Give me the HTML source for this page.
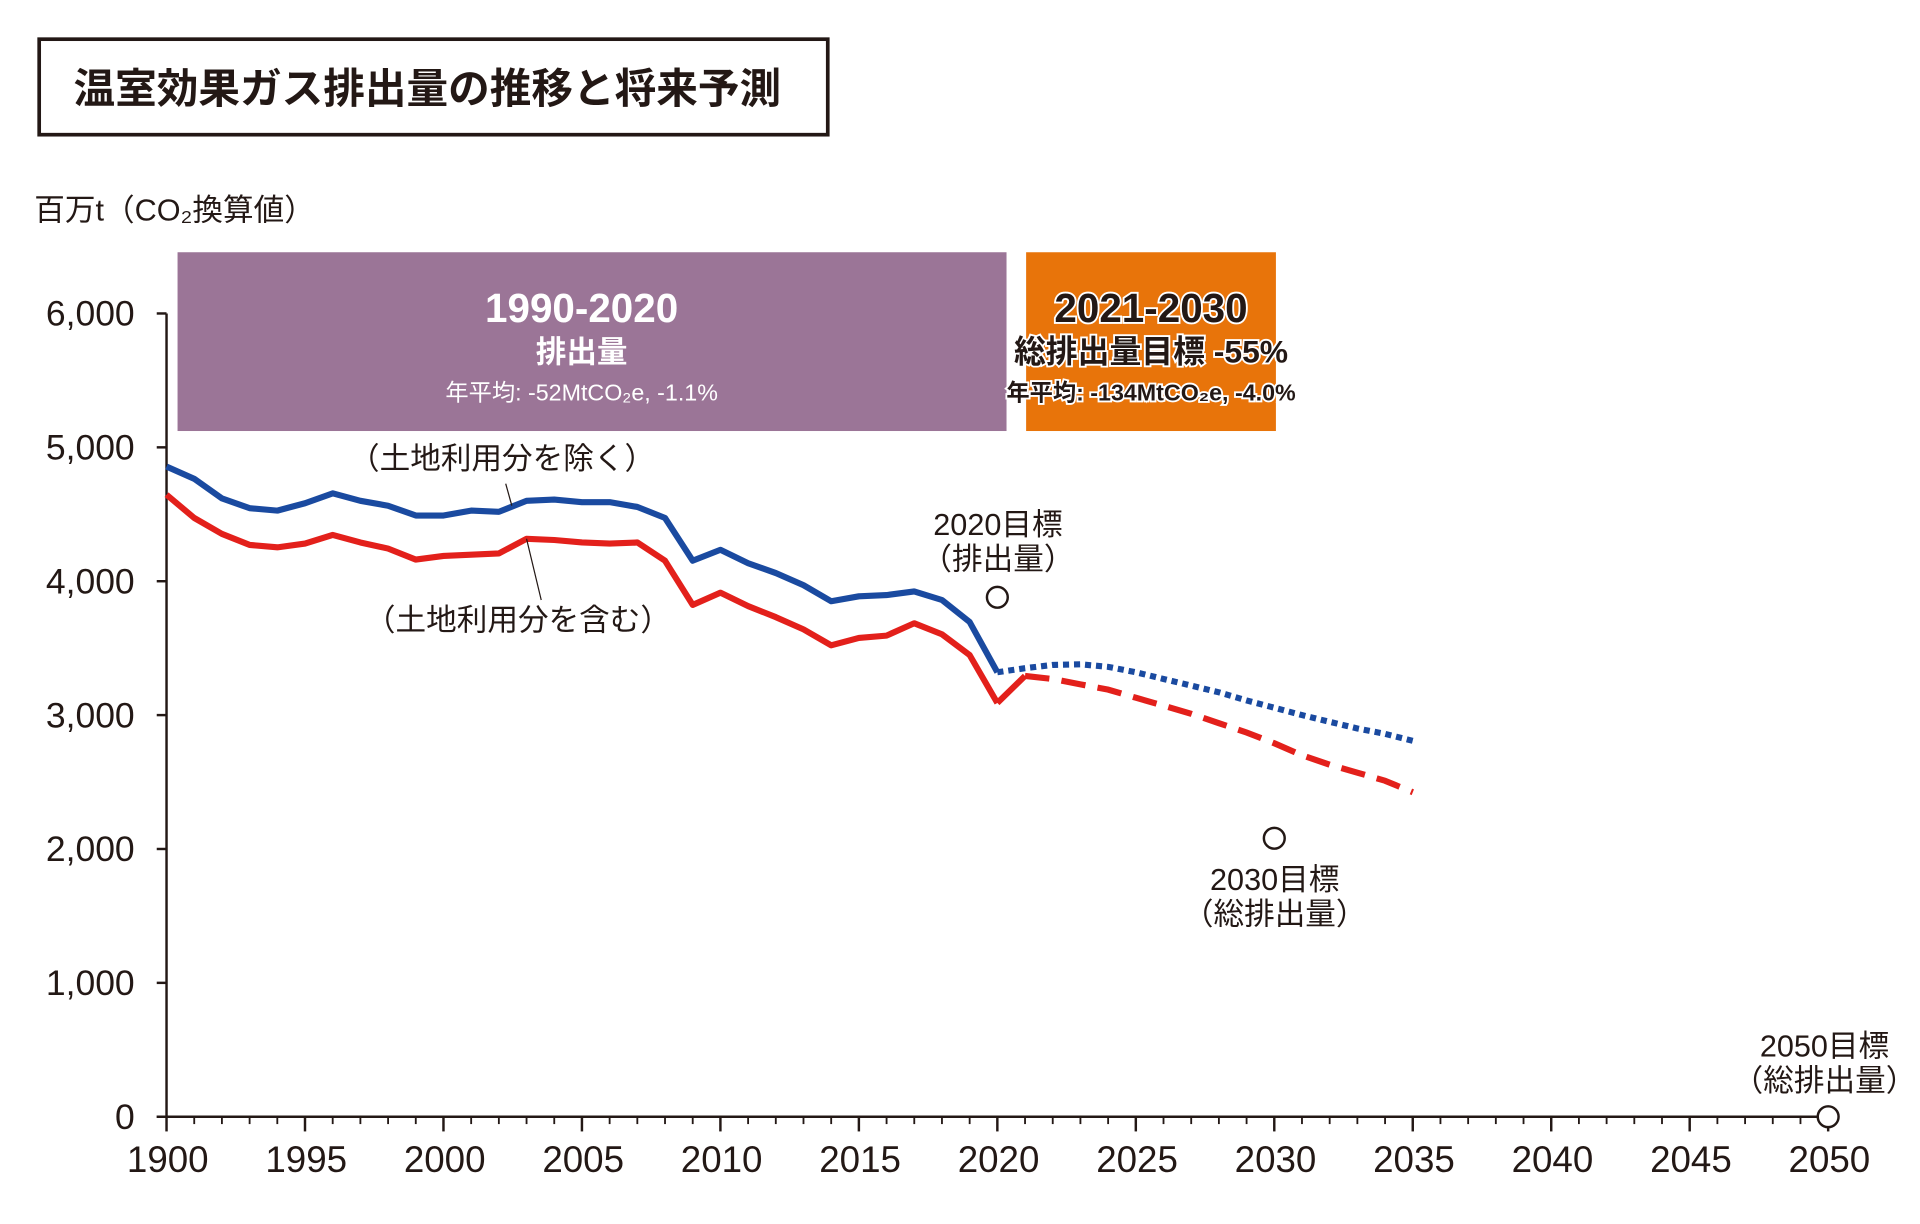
<!DOCTYPE html>
<html><head><meta charset="utf-8"><style>
html,body{margin:0;padding:0;background:#fff;}
svg{display:block;font-family:"Liberation Sans","Noto Sans CJK JP",sans-serif;}
</style></head><body>
<svg id="chart" width="1920" height="1224" viewBox="0 0 1568 999.6" preserveAspectRatio="none" xmlns="http://www.w3.org/2000/svg">
<rect x="32" y="32" width="644" height="78" fill="#fff" stroke="#231815" stroke-width="3"/>
<text x="60" y="84" font-size="34" font-weight="bold" fill="#231815">温室効果ガス排出量の推移と将来予測</text>
<text x="28" y="180" font-size="25" fill="#231815">百万t（CO₂換算値）</text>
<rect x="145" y="206" width="677" height="146" fill="#9b7597"/>
<text x="475" y="263" font-size="33" font-weight="bold" fill="#fff" text-anchor="middle">1990-2020</text>
<text x="475" y="296" font-size="25" font-weight="bold" fill="#fff" text-anchor="middle">排出量</text>
<text x="475" y="327" font-size="19" fill="#fff" text-anchor="middle">年平均: -52MtCO₂e, -1.1%</text>
<rect x="838" y="206" width="204" height="146" fill="#e8740a"/>
<g fill="#231815" stroke="#fff" stroke-width="3" paint-order="stroke" font-weight="bold" text-anchor="middle">
<text x="940" y="263" font-size="33">2021-2030</text>
<text x="940" y="296" font-size="26">総排出量目標 -55%</text>
<text x="940" y="327" font-size="19">年平均: -134MtCO₂e, -4.0%</text>
</g>
<g id="axes"></g>
<g id="series"></g>
<g fill="#231815" font-size="25" text-anchor="middle">
<text x="410" y="383">（土地利用分を除く）</text>
<text x="423" y="515">（土地利用分を含む）</text>
<text x="815" y="437">2020目標</text>
<text x="815" y="465">（排出量）</text>
<text x="1041" y="727">2030目標</text>
<text x="1041" y="755">（総排出量）</text>
<text x="1490" y="863">2050目標</text>
<text x="1490" y="891">（総排出量）</text>
</g>
<line x1="413" y1="395" x2="418" y2="413" stroke="#231815" stroke-width="1"/>
<line x1="430" y1="440" x2="442" y2="490" stroke="#231815" stroke-width="1"/>
</svg>
<script>
const years = [1990,1991,1992,1993,1994,1995,1996,1997,1998,1999,2000,2001,2002,2003,2004,2005,2006,2007,2008,2009,2010,2011,2012,2013,2014,2015,2016,2017,2018,2019,2020];
const exclLandUse = [4857,4765,4619,4546,4527,4582,4656,4601,4564,4491,4491,4527,4518,4601,4610,4591,4591,4555,4473,4153,4235,4134,4061,3970,3851,3887,3896,3924,3860,3695,3320];
const inclLandUse = [4646,4473,4354,4271,4253,4281,4345,4290,4244,4162,4189,4198,4207,4317,4308,4290,4281,4290,4153,3823,3915,3814,3732,3640,3521,3576,3594,3686,3604,3448,3091];
const projYearsBlue = [2020,2021,2022,2023,2024,2025,2026,2027,2028,2029,2030,2031,2032,2033,2034,2035];
const projExcl = [3320,3350,3375,3380,3360,3320,3270,3220,3170,3110,3055,3000,2950,2900,2860,2808];
const projYearsRed = [2021,2022,2023,2024,2025,2026,2027,2028,2029,2030,2031,2032,2033,2034,2035];
const projIncl = [3293,3270,3230,3190,3130,3070,3010,2940,2870,2790,2700,2630,2570,2510,2424];
const targetYears = [2020,2030,2050];
const targetValues = [3880,2080,0];
const yTicks = [0,1000,2000,3000,4000,5000,6000];
const yTickLabels = ["0","1,000","2,000","3,000","4,000","5,000","6,000"];
const xTicks = [1990,1995,2000,2005,2010,2015,2020,2025,2030,2035,2040,2045,2050];
const xTickLabels = ["1900","1995","2000","2005","2010","2015","2020","2025","2030","2035","2040","2045","2050"];

const NS="http://www.w3.org/2000/svg";
const X = yr => 136 + (yr-1990)*(1493-136)/60;
const Y = v => 912 - v*(912-256)/6000;
function mk(tag, attrs, parent){const e=document.createElementNS(NS,tag);for(const k in attrs)e.setAttribute(k,attrs[k]);parent.appendChild(e);return e;}
const axes=document.getElementById('axes'), ser=document.getElementById('series');
const ink="#231815";
let e;
e=mk('line',{x1:136,y1:Y(6000),x2:136,y2:912,stroke:ink,'stroke-width':2},axes);


e=mk('line',{x1:128,y1:912,x2:1493,y2:912,stroke:ink,'stroke-width':2},axes);


yTicks.forEach((v,i)=>{
  e=mk('line',{x1:128,y1:Y(v),x2:136,y2:Y(v),stroke:ink,'stroke-width':2},axes);
  
  
  e=mk('text',{x:110,y:Y(v)+10,'font-size':29,fill:ink,'text-anchor':'end'},axes);
  e.textContent=yTickLabels[i];
  
  
});
for(let yr=1991;yr<2050;yr++){
  if((yr-1990)%5===0) continue;
  e=mk('line',{x1:X(yr),y1:912,x2:X(yr),y2:918,stroke:ink,'stroke-width':1.5},axes);
  
  
}
xTicks.forEach((yr,i)=>{
  e=mk('line',{x1:X(yr),y1:912,x2:X(yr),y2:924,stroke:ink,'stroke-width':2},axes);
  
  
  e=mk('text',{x:X(yr)+1,y:957,'font-size':30,fill:ink,'text-anchor':'middle'},axes);
  e.textContent=xTickLabels[i];
  
  
});
const pts=(xs,vs)=>xs.map((yr,i)=>X(yr).toFixed(1)+','+Y(vs[i]).toFixed(1)).join(' ');
e=mk('polyline',{points:pts(projYearsBlue,projExcl),fill:'none',stroke:'#1a4aa0','stroke-width':5,'stroke-dasharray':'5 4'},ser);


e=mk('polyline',{points:pts(projYearsRed,projIncl),fill:'none',stroke:'#e3201b','stroke-width':5,'stroke-dasharray':'20 10'},ser);


e=mk('polyline',{points:pts([2020,2021],[inclLandUse[inclLandUse.length-1],projIncl[0]]),fill:'none',stroke:'#e3201b','stroke-width':5},ser);


e=mk('polyline',{points:pts(years,exclLandUse),fill:'none',stroke:'#1a4aa0','stroke-width':5,'stroke-linejoin':'round'},ser);


e=mk('polyline',{points:pts(years,inclLandUse),fill:'none',stroke:'#e3201b','stroke-width':5,'stroke-linejoin':'round'},ser);


targetYears.forEach((yr,i)=>{
  e=mk('circle',{cx:X(yr),cy:Y(targetValues[i]),r:8.5,fill:'#fff',stroke:ink,'stroke-width':2},ser);
  
  
});
</script>
</body></html>
